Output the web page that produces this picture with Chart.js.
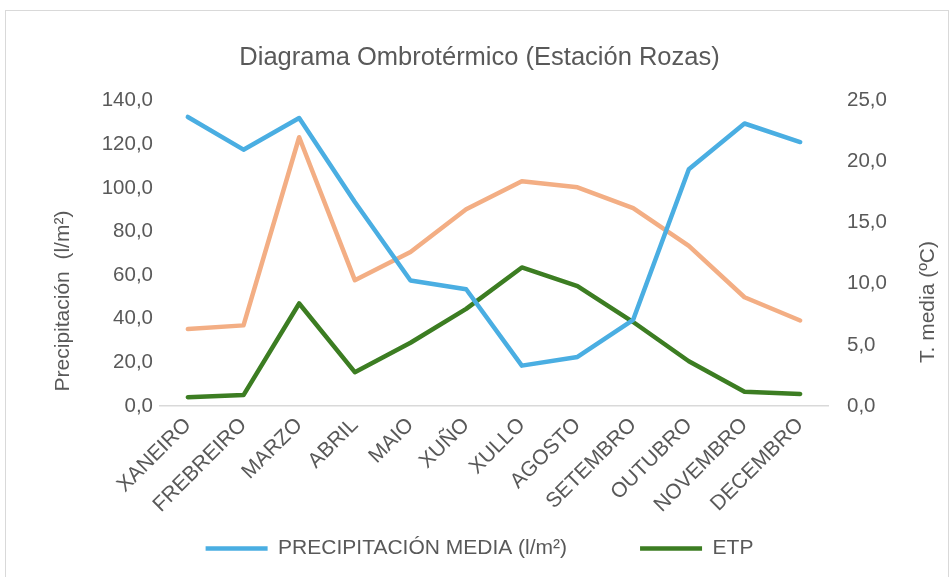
<!DOCTYPE html>
<html>
<head>
<meta charset="utf-8">
<script src="https://cdn.jsdelivr.net/npm/chart.js@4"></script>
<style>
  html, body { margin: 0; padding: 0; background: #fff; }
  .wrap { position: relative; width: 952px; height: 577px; }
  .frame { position: absolute; left: 5px; top: 10px; width: 944px; height: 580px; border: 1px solid #d9d9d9; box-sizing: border-box; }
  canvas { position: absolute; left: 0; top: 0; }
</style>
</head>
<body>
<div class="wrap">
  <div class="frame"></div>
  <canvas id="ombro" width="952" height="577"></canvas>
</div>
<script>
// Diagrama ombrotérmico - Estación Rozas

const months = ['XANEIRO', 'FREBREIRO', 'MARZO', 'ABRIL', 'MAIO', 'XUÑO',
                'XULLO', 'AGOSTO', 'SETEMBRO', 'OUTUBRO', 'NOVEMBRO', 'DECEMBRO'];

// precipitación media (l/m²) - eixo esquerdo
const precipitacion = [132.5, 117.5, 132.0, 93.5, 57.5, 53.5, 18.5, 22.5, 39.5, 108.5, 129.5, 121.0];

// ETP - eixo esquerdo
const etp = [4.0, 5.0, 47.0, 15.5, 29.0, 44.5, 63.5, 55.0, 38.5, 20.5, 6.5, 5.5];

// temperatura media (ºC) - eixo dereito
const temperatura = [6.3, 6.6, 22.0, 10.3, 12.6, 16.1, 18.4, 17.9, 16.2, 13.1, 8.9, 7.0];

const leftTicks = [0, 20, 40, 60, 80, 100, 120, 140];
const rightTicks = [0, 5, 10, 15, 20, 25];

const textColor = '#595959';
const fontFamily = '"Liberation Sans", Arial, sans-serif';

function comma(v) {
    return Number(v).toFixed(1).replace('.', ',');
}

// axis titles, both read bottom-to-top like in Excel
const axisTitles = {
    id: 'axisTitles',
    afterDraw(chart) {
        const c = chart.ctx;
        c.save();
        c.fillStyle = textColor;
        c.font = '21px ' + fontFamily;
        c.textAlign = 'center';
        c.textBaseline = 'middle';
        [['Precipitación  (l/m²)', 63, 301], ['T. media (ºC)', 928, 302]].forEach(([txt, x, y]) => {
            c.save();
            c.translate(x, y);
            c.rotate(-Math.PI / 2);
            c.fillText(txt, 0, 0);
            c.restore();
        });
        c.restore();
    }
};

const ctx = document.getElementById('ombro').getContext('2d');
new Chart(ctx, {
    type: 'line',
    data: {
        labels: months,
        datasets: [{
            label: 'PRECIPITACIÓN MEDIA (l/m²)',
            data: precipitacion,
            borderColor: '#4aaee2',
            backgroundColor: '#4aaee2',
            borderWidth: 4.5,
            borderCapStyle: 'round',
            yAxisID: 'y'
        }, {
            label: 'ETP',
            data: etp,
            borderColor: '#3c7d22',
            backgroundColor: '#3c7d22',
            borderWidth: 4.5,
            borderCapStyle: 'round',
            yAxisID: 'y'
        }, {
            label: 'T. MEDIA (ºC)',
            data: temperatura,
            borderColor: '#f3ae84',
            backgroundColor: '#f3ae84',
            borderWidth: 4.5,
            borderCapStyle: 'round',
            yAxisID: 'y1'
        }]
    },
    options: {
        responsive: false,
        animation: false,
        devicePixelRatio: 1,
        elements: {
            line: { tension: 0, borderJoinStyle: 'round' },
            point: { radius: 0, hoverRadius: 0 }
        },
        layout: {
            padding: { left: 12, right: 5, top: 0, bottom: 8 }
        },
        scales: {
            x: {
                offset: true,
                grid: { display: false, drawTicks: false },
                border: { display: true, color: '#d9d9d9', width: 1.5 },
                ticks: {
                    color: textColor,
                    font: { family: fontFamily, size: 21 },
                    minRotation: 45,
                    maxRotation: 45,
                    padding: 7,
                    autoSkip: false
                },
                afterFit: s => {
                    // keep the legend close; rotated labels may overflow the box
                    s.height = 59;
                    s._computeLabelArea = () => undefined;
                }
            },
            y: {
                position: 'left',
                min: 0,
                max: 140,
                afterBuildTicks: s => { s.ticks = leftTicks.map(v => ({ value: v })); },
                grid: { display: false, drawTicks: false },
                border: { display: false },
                ticks: {
                    color: textColor,
                    font: { family: fontFamily, size: 20.5 },
                    padding: 7,
                    callback: v => comma(v)
                },
                afterFit: s => { s.width = 148; }
            },
            y1: {
                position: 'right',
                min: 0,
                max: 25,
                afterBuildTicks: s => { s.ticks = rightTicks.map(v => ({ value: v })); },
                grid: { display: false, drawTicks: false },
                border: { display: false },
                ticks: {
                    color: textColor,
                    font: { family: fontFamily, size: 20.5 },
                    padding: 19,
                    callback: v => comma(v)
                },
                afterFit: s => { s.width = 119; }
            }
        },
        plugins: {
            title: {
                display: true,
                text: 'Diagrama Ombrotérmico (Estación Rozas)',
                color: textColor,
                font: { family: fontFamily, size: 25.5, weight: 'normal' },
                padding: { top: 43, bottom: 27 }
            },
            legend: {
                position: 'bottom',
                labels: {
                    filter: item => item.datasetIndex !== 2,
                    usePointStyle: true,
                    pointStyle: 'line',
                    pointStyleWidth: 62,
                    color: textColor,
                    font: { family: fontFamily, size: 21 },
                    padding: 73
                }
            },
            tooltip: { enabled: false }
        }
    },
    plugins: [axisTitles]
});
</script>
</body>
</html>
